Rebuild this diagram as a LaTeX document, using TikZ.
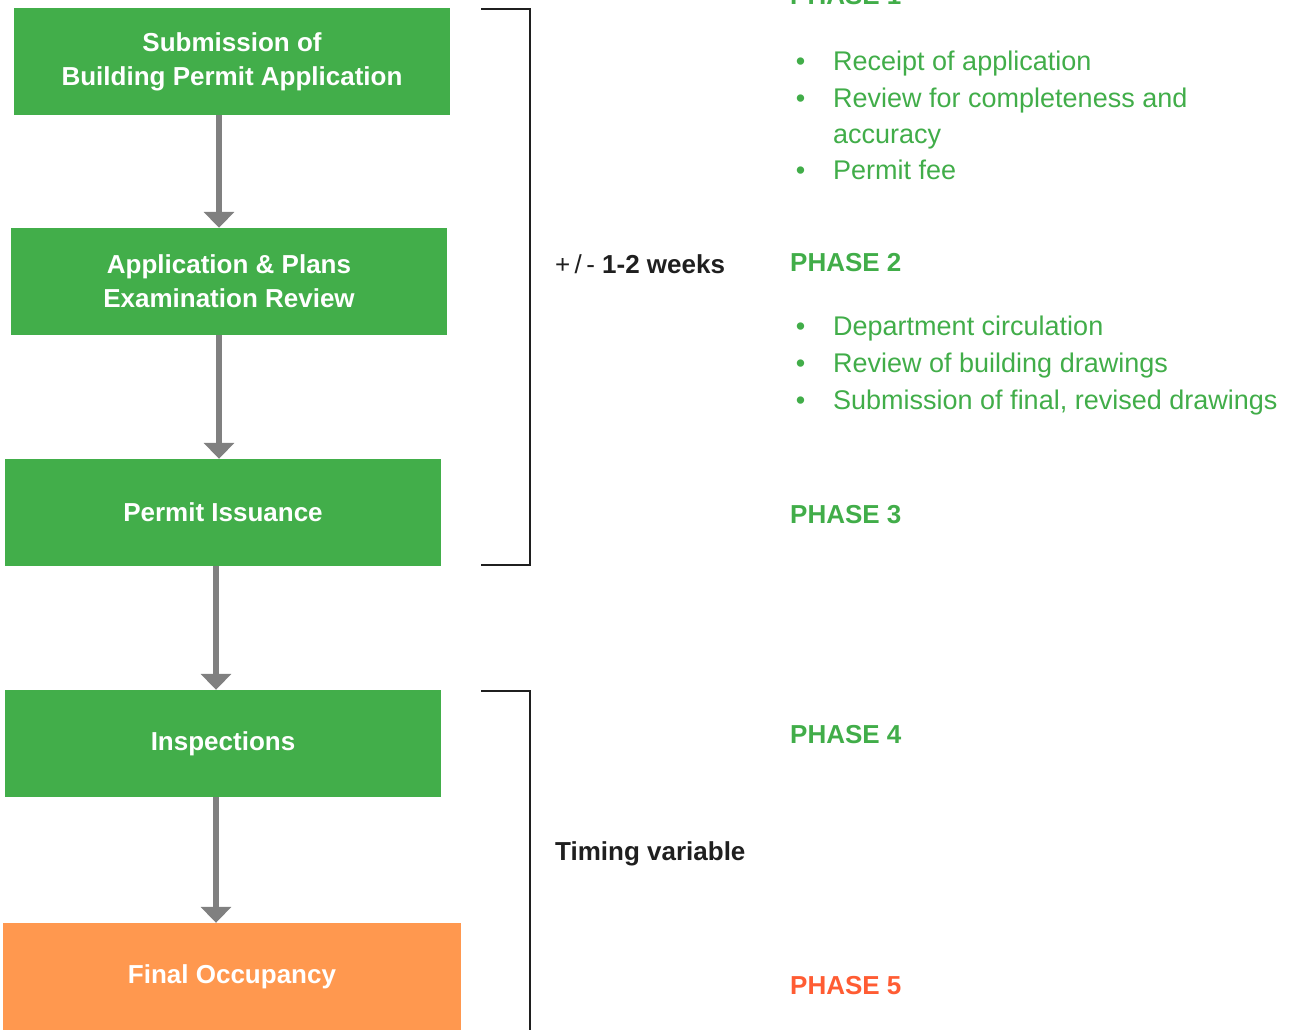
\documentclass[tikz,border=0pt]{standalone}
\usepackage{fontspec}
\setmainfont{Liberation Sans}
\usetikzlibrary{arrows.meta,positioning}
\definecolor{stepgreen}{HTML}{42AE4A}
\definecolor{steporange}{HTML}{FF984F}
\definecolor{phasegreen}{HTML}{41AD49}
\definecolor{phaseorange}{HTML}{FF5C33}
\definecolor{arrowgray}{HTML}{808080}
\definecolor{dark}{HTML}{1F1F1F}

\begin{document}
\begin{tikzpicture}[x=1pt, y=-1pt,
  stepbox/.style={fill=stepgreen, draw=none, minimum width=436pt, minimum height=107pt,
                  align=center, text=white, inner sep=0pt,
                  font=\fontsize{26}{34}\selectfont\bfseries},
  flow/.style={arrowgray, line width=6pt, -{Triangle[width=30pt, length=16pt]}},
  phase/.style={anchor=base west, inner sep=0pt, text=phasegreen,
                font=\fontsize{26}{30}\selectfont\bfseries},
  item/.style={anchor=base west, inner sep=0pt, text=phasegreen,
               font=\fontsize{27}{30}\selectfont},
  timing/.style={anchor=base west, inner sep=0pt, text=dark,
                 font=\fontsize{26}{30}\selectfont\bfseries},
  bracket/.style={dark, line width=1.6pt}
]
  \useasboundingbox (0,0) rectangle (1295,1029);

  % steps
  \node[stepbox] (sub) at (232,61.5) {Submission of\\Building Permit Application};
  \node[stepbox] (app) at (229,281.5) {Application \& Plans\\Examination Review};
  \node[stepbox] (iss) at (223,512.5) {Permit Issuance};
  \node[stepbox] (ins) at (223,743.5) {Inspections};
  \node[stepbox, fill=steporange, minimum width=458pt] (occ) at (232,976.5) {Final Occupancy};

  \draw[flow] (sub.south -| 219,0) -- (app.north -| 219,0);
  \draw[flow] (app.south -| 219,0) -- (iss.north -| 219,0);
  \draw[flow] (iss.south -| 216,0) -- (ins.north -| 216,0);
  \draw[flow] (ins.south -| 216,0) -- (occ.north -| 216,0);

  % timing brackets
  \draw[bracket] (481,9) -| (530,565) -- (481,565);
  \draw[bracket] (481,691) -| (530,1040);
  \node[timing] (wk) at (555,273) {\mdseries+\,/\,-\bfseries\ 1-2 weeks};
  \node[timing] (var) at (555,860) {Timing variable};

  % phases
  \node[phase] (p1) at (790,4) {PHASE 1};
  \node[item] (i11) at (833,70) {\llap{•\hspace{28pt}}Receipt of application};
  \node[item] (i12) at (833,107) {\llap{•\hspace{28pt}}Review for completeness and};
  \node[item] (i13) at (833,143) {accuracy};
  \node[item] (i14) at (833,179) {\llap{•\hspace{28pt}}Permit fee};

  \node[phase] (p2) at (790,271) {PHASE 2};
  \node[item] (i21) at (833,335) {\llap{•\hspace{28pt}}Department circulation};
  \node[item] (i22) at (833,372) {\llap{•\hspace{28pt}}Review of building drawings};
  \node[item] (i23) at (833,409) {\llap{•\hspace{28pt}}Submission of final, revised drawings};

  \node[phase] (p3) at (790,523) {PHASE 3};
  \node[phase] (p4) at (790,743) {PHASE 4};
  \node[phase, text=phaseorange] (p5) at (790,994) {PHASE 5};
\end{tikzpicture}
\end{document}
